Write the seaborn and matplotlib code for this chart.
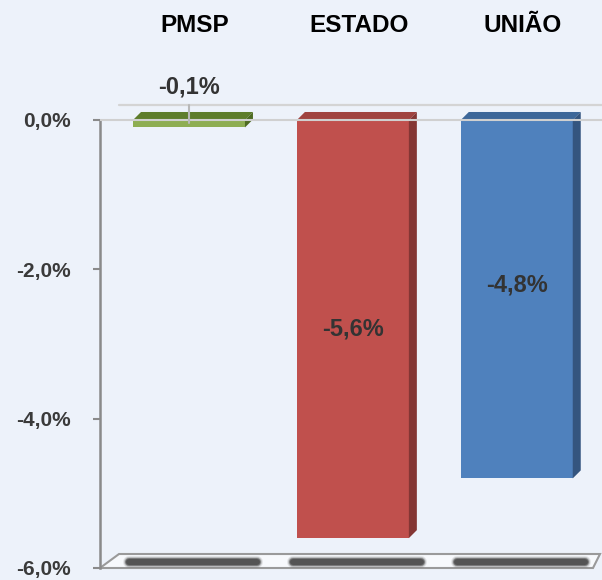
import matplotlib
matplotlib.use("Agg")
import matplotlib.pyplot as plt
import seaborn as sns
import numpy as np
from matplotlib.patches import Polygon

# ---- data ----
categories = ["PMSP", "ESTADO", "UNIÃO"]
values = [-0.1, -5.6, -4.8]
value_labels = ["-0,1%", "-5,6%", "-4,8%"]
yticks = [0, -2, -4, -6]
ytick_labels = ["0,0%", "-2,0%", "-4,0%", "-6,0%"]

front_colors = ["#8EAE52", "#C0504D", "#4F81BD"]
top_colors = ["#5E7D2B", "#A04340", "#3D6799"]
side_colors = ["#4E6B22", "#843634", "#34557F"]

BG = "#EDF2FA"

sns.set_theme(style="white")
plt.rcParams["font.family"] = ["Liberation Sans", "DejaVu Sans"]

fig = plt.figure(figsize=(6.02, 5.80), dpi=100)
fig.patch.set_facecolor(BG)
W, H = 602, 580
ax = fig.add_axes([100 / W, 12 / H, 502 / W, 568 / H])
ax.set_facecolor(BG)

sns.barplot(x=categories, y=values, hue=categories, palette=front_colors,
            saturation=1, width=0.683, legend=False, ax=ax, zorder=3,
            edgecolor="none")
bars = list(ax.patches)

ax.set_xlim(-0.543, 2.52)
ax.set_ylim(-6, 1.607)

# pixel -> data scales
px_x = (ax.get_xlim()[1] - ax.get_xlim()[0]) / ax.bbox.width
px_y = (ax.get_ylim()[1] - ax.get_ylim()[0]) / ax.bbox.height
dx, dy = 8 * px_x, 8 * px_y

# floor
x_left, x_right = ax.get_xlim()
floor = Polygon([(x_left, -6), (x_right - 9 * px_x, -6),
                 (x_right - 2 * px_x, -6 + 14 * px_y),
                 (x_left + 19 * px_x, -6 + 14 * px_y)],
                closed=True, facecolor="#F7F9FC", edgecolor="#9A9A9A",
                lw=1.5, zorder=1, clip_on=False)
ax.add_patch(floor)

# back line
ax.plot([x_left + 19 * px_x, x_right], [15 * px_y, 15 * px_y],
        color="#D4D4D4", lw=1.6, zorder=1, clip_on=False)

for i, p in enumerate(bars):
    x0 = p.get_x()
    w = p.get_width()
    x1 = x0 + w
    bottom = values[i]
    # top face
    ax.add_patch(Polygon([(x0, 0), (x0 + dx, dy), (x1 + dx, dy), (x1, 0)],
                         closed=True, facecolor=top_colors[i], edgecolor="none",
                         zorder=3))
    # side face
    ax.add_patch(Polygon([(x1, 0), (x1 + dx, dy), (x1 + dx, bottom + dy), (x1, bottom)],
                         closed=True, facecolor=side_colors[i], edgecolor="none",
                         zorder=3))
    # floor shadow
    yc = -6 + 6.5 * px_y
    for lw, a in [(12, 0.12), (10, 0.25), (8, 0.6), (6, 0.85)]:
        ax.plot([x0 - 4 * px_x, x1 + 12 * px_x], [yc, yc], color="#4E4E4E",
                lw=lw * 0.72, alpha=a, solid_capstyle="round", zorder=2,
                clip_on=False)

# zero gridline in front
ax.plot([x_left, x_right], [0, 0], color="#D0D0D0", lw=1.5, zorder=4)
# small vertical line over PMSP
ax.plot([0, 0], [-3 * px_y, 15 * px_y], color="#B8B8B8", lw=1.5, zorder=4)

# data labels
label_offsets_px = [0, 0, 14]
for i, v in enumerate(values):
    if abs(v) < 0.5:
        y = v + 40 * px_y
    else:
        y = v / 2 + label_offsets_px[i] * px_y
    ax.text(i, y, value_labels[i], ha="center", va="center", fontsize=17,
            fontweight="bold", color="#333333", zorder=5)

# category labels at top
for i, c in enumerate(categories):
    ax.text(i + 6 * px_x, 94 * px_y, c, ha="center", va="center", fontsize=17.5,
            fontweight="bold", color="black", zorder=5)

ax.set_xticks([])
ax.set_xlabel("")
ax.set_yticks(yticks)
ax.set_yticklabels(ytick_labels, fontsize=15, fontweight="bold", color="#3A3A3A")
ax.tick_params(axis="y", direction="out", length=5, width=1.5, color="#8A8A8A",
               pad=16, left=True)
for s in ["top", "right", "bottom"]:
    ax.spines[s].set_visible(False)
ax.spines["left"].set_color("#8A8A8A")
ax.spines["left"].set_linewidth(1.8)
ax.spines["left"].set_bounds(-6, 0)
ax.spines["left"].set_zorder(2)

fig.savefig("out.png", dpi=100, facecolor=BG)
